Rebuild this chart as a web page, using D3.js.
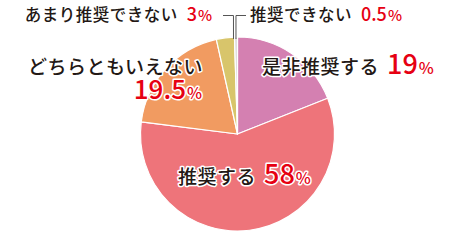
<!DOCTYPE html>
<html>
<head>
<meta charset="utf-8">
<script src="https://cdn.jsdelivr.net/npm/d3@7"></script>
<style>
  body { margin: 0; background: #fff; }
  svg text { font-family: "Noto Sans CJK JP", "Noto Sans", sans-serif; }
</style>
</head>
<body>
<script>
//=========================== data ============================================

var categories = ["是非推奨する", "推奨する", "どちらともいえない", "あまり推奨できない", "推奨できない"];
var values     = [19, 58, 19.5, 3, 0.5];
var valueText  = ["19", "58", "19.5", "3", "0.5"];
var colors     = ["#d480b1", "#ee747a", "#f19b61", "#d8c56b", "#dcdcdc"];

//=========================== layout ==========================================

var W = 460, H = 240;
var cx = 237.5, cy = 134, radius = 97;

// label placement, one per category
var labels = [
    {x: 262, y: 74,  nameSize: 19, numSize: 27, pctSize: 16, gap: 8,  weight: 500},
    {x: 178, y: 184, nameSize: 19, numSize: 27, pctSize: 16, gap: 8,  weight: 500},
    {x: 28,  y: 73.5, nameSize: 19, numSize: 26, pctSize: 16, weight: 500, numX: 202, numY: 98.5},
    {x: 212, y: 21,  nameSize: 16.5, numSize: 18, pctSize: 15, gap: 9, weight: 500, anchor: "end"},
    {x: 250, y: 21,  nameSize: 16.5, numSize: 18, pctSize: 15, gap: 9, weight: 500}
];

//=========================== drawing =========================================

var svg = d3.select("body").append("svg")
    .attr("width", W)
    .attr("height", H);

var pie = d3.pie().sort(null).value(d => d);
var arcs = pie(values);
var arc = d3.arc().innerRadius(0).outerRadius(radius);

var g = svg.append("g").attr("transform", "translate(" + cx + "," + cy + ")");

g.selectAll("path")
    .data(arcs)
    .enter().append("path")
    .attr("d", arc)
    .attr("fill", (d, i) => colors[i])
    .attr("stroke", "#fff")
    .attr("stroke-width", 1.2)
    .attr("stroke-linejoin", "round");

// leader lines for the two small slices at the top
var leaderY = 15.5;
var leaders = [
    {i: 3, angle: arcs[3].endAngle - 0.01, toX: 223},
    {i: 4, angle: (arcs[4].startAngle + arcs[4].endAngle) / 2, toX: 246}
];
leaders.forEach(function(l) {
    var px = cx + Math.sin(l.angle) * radius;
    var py = cy - Math.cos(l.angle) * radius;
    svg.append("polyline")
        .attr("points", [[px, py + 2], [px, leaderY], [l.toX, leaderY]].map(p => p.join(",")).join(" "))
        .attr("fill", "none")
        .attr("stroke", "#555")
        .attr("stroke-width", 1);
});

// labels
function styleText(t, weight) {
    return t.attr("font-weight", weight)
        .attr("stroke", "#fff")
        .attr("stroke-width", 3)
        .attr("stroke-linejoin", "round")
        .attr("paint-order", "stroke");
}

labels.forEach(function(l, i) {
    if (l.numX !== undefined) {
        styleText(svg.append("text"), l.weight)
            .attr("x", l.x).attr("y", l.y)
            .attr("font-size", l.nameSize)
            .attr("fill", "#231815")
            .attr("letter-spacing", 0.5)
            .text(categories[i]);
        var n = styleText(svg.append("text"), l.weight)
            .attr("x", l.numX).attr("y", l.numY)
            .attr("text-anchor", "end")
            .attr("fill", "#e60012");
        n.append("tspan").attr("font-size", l.numSize).text(valueText[i]);
        n.append("tspan").attr("font-size", l.pctSize).attr("dx", 1).text("%");
        return;
    }
    var t = styleText(svg.append("text"), l.weight)
        .attr("x", l.x).attr("y", l.y)
        .attr("text-anchor", l.anchor || "start");
    t.append("tspan")
        .attr("font-size", l.nameSize)
        .attr("fill", "#231815")
        .attr("letter-spacing", 0.5)
        .text(categories[i]);
    t.append("tspan")
        .attr("dx", l.gap)
        .attr("font-size", l.numSize)
        .attr("fill", "#e60012")
        .text(valueText[i]);
    t.append("tspan")
        .attr("dx", 1)
        .attr("font-size", l.pctSize)
        .attr("fill", "#e60012")
        .text("%");
});
</script>
</body>
</html>
